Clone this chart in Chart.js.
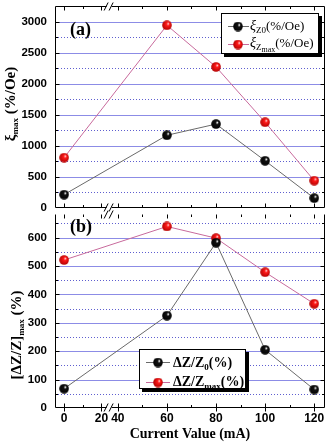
<!DOCTYPE html>
<html><head><meta charset="utf-8">
<script src="https://cdn.jsdelivr.net/npm/chart.js@4.4.1/dist/chart.umd.min.js"></script>
<style>
html,body{margin:0;padding:0;background:#fff;width:331px;height:443px;overflow:hidden}
#c1{position:absolute;left:0;top:0}
#c2{position:absolute;left:0;top:208px}
</style></head><body>
<canvas id="c1" width="331" height="216"></canvas>
<canvas id="c2" width="331" height="235"></canvas>
<script>
// ---------- data ----------
const currents = [0, 60, 80, 100, 120];               // mA
const xiZ0     = [215, 1170, 1350, 760, 158];          // %/Oe
const xiZmax   = [810, 2940, 2270, 1380, 440];         // %/Oe
const dzZ0     = [68, 325, 582, 205, 65];              // %
const dzZmax   = [521, 639, 598, 478, 367];            // %
const xMajorTicks = [0, 20, 40, 60, 80, 100, 120];
const xMinorTicks = [10, 50, 70, 90, 110];
const xBreak = [20, 40];
const topYTicks = [0, 500, 1000, 1500, 2000, 2500, 3000];
const botYTicks = [0, 100, 200, 300, 400, 500, 600];
const topYMax = 3250, topYMajor = 500, topYMinor = 250;
const botYMax = 683, botYMajor = 100, botYMinor = 50;
const xTitle = 'Current Value (mA)';
const panelLabels = ['(a)', '(b)'];

// ---------- broken x scale (0-20 compressed, 20-40 removed) ----------
const SEG_A0 = 18.1, SEG_A1 = 33.3;
function brk(v) {
  if (v <= xBreak[0]) return SEG_A0 + (SEG_A1 - SEG_A0) * v / xBreak[0];
  if (v >= xBreak[1]) return v;
  return SEG_A1 + (xBreak[1] - SEG_A1) * (v - xBreak[0]) / (xBreak[1] - xBreak[0]);
}
function unbrk(d) {
  if (d <= SEG_A1) return (d - SEG_A0) * xBreak[0] / (SEG_A1 - SEG_A0);
  if (d >= xBreak[1]) return d;
  return xBreak[0] + (d - SEG_A1) * (xBreak[1] - xBreak[0]) / (xBreak[1] - SEG_A1);
}
class BrokenScale extends Chart.LinearScale {
  getPixelForValue(value) {
    if (value === null || value === undefined || isNaN(value)) return NaN;
    return super.getPixelForValue(brk(value));
  }
  getValueForPixel(pixel) { return unbrk(super.getValueForPixel(pixel)); }
}
BrokenScale.id = 'brokenLinear';
BrokenScale.defaults = Chart.LinearScale.defaults;
Chart.register(BrokenScale);

// ---------- helpers ----------
function sphere(base, hi, dark, d) {
  const c = document.createElement('canvas'); c.width = c.height = d;
  const g = c.getContext('2d'); const r = d / 2;
  const grad = g.createRadialGradient(r * 1.3, r * 0.65, 0.2, r, r, r);
  grad.addColorStop(0, hi); grad.addColorStop(0.3, base); grad.addColorStop(1, dark);
  g.fillStyle = grad; g.beginPath(); g.arc(r, r, r - 0.2, 0, Math.PI * 2); g.fill();
  return c;
}
const blackBall = sphere('#111', '#ffffff', '#000', 10);
const redBall = sphere('#ff1a1a', '#ffd0d0', '#b00000', 10);
const blackLine = '#6a6a6a', redLine = '#c86a9c';

const SERIF = '"Liberation Serif", "Times New Roman", serif';
const SANS = '"Liberation Sans", Arial, sans-serif';
function rich(ctx, segs, x, y, align) {
  let total = 0;
  segs.forEach(s => { ctx.font = s.f; s.w = ctx.measureText(s.t).width; total += s.w; });
  let cx = align === 'center' ? x - total / 2 : x;
  ctx.textBaseline = 'alphabetic'; ctx.textAlign = 'left';
  segs.forEach(s => { ctx.font = s.f; ctx.fillStyle = '#000'; ctx.fillText(s.t, cx, y + (s.dy || 0)); cx += s.w; });
}
function drawLegend(ctx, box, rows) {
  ctx.save();
  ctx.fillStyle = '#000'; ctx.fillRect(box.x + 3, box.y + 3, box.w, box.h);
  ctx.fillStyle = '#fff'; ctx.fillRect(box.x, box.y, box.w, box.h);
  ctx.strokeStyle = '#000'; ctx.lineWidth = 1; ctx.strokeRect(box.x + 0.5, box.y + 0.5, box.w - 1, box.h - 1);
  rows.forEach(r => {
    ctx.strokeStyle = r.line; ctx.lineWidth = 1;
    ctx.beginPath(); ctx.moveTo(r.x1, r.y + 0.5); ctx.lineTo(r.x2, r.y + 0.5); ctx.stroke();
    ctx.drawImage(r.img, r.mx - r.img.width / 2, r.y - r.img.height / 2 + 0.5);
    rich(ctx, r.segs, r.tx, r.y + r.base);
  });
  ctx.restore();
}

function decor(p) {
  return {
    id: 'decor' + p.name,
    beforeDatasetsDraw(chart) {
      const {ctx, chartArea: a, scales: {y}} = chart;
      ctx.save();
      for (let k = 1; k * p.minor < y.max - 1; k++) {
        const v = k * p.minor;
        const major = v % p.major === 0;
        const py = Math.round(y.getPixelForValue(v)) + 0.5;
        ctx.beginPath();
        ctx.setLineDash(major ? [] : [1, 2]);
        ctx.strokeStyle = major ? '#8c8ce6' : '#5f5fd0';
        ctx.lineWidth = major ? 1.2 : 1;
        ctx.moveTo(a.left, py); ctx.lineTo(a.right, py); ctx.stroke();
      }
      ctx.restore();
    },
    afterDraw(chart) {
      const {ctx, chartArea: a, scales: {x, y}} = chart;
      ctx.save();
      ctx.setLineDash([]);
      ctx.strokeStyle = '#000'; ctx.lineWidth = 1;
      const L = Math.round(a.left) + 0.5, R = Math.round(a.right) - 0.5;
      const T = Math.round(a.top) + 0.5, B = Math.round(a.bottom) - 0.5;
      ctx.beginPath();
      ctx.moveTo(L, B); ctx.lineTo(R, B); ctx.moveTo(L, T); ctx.lineTo(L, B); ctx.moveTo(R, T); ctx.lineTo(R, B);
      if (p.topEdge) { ctx.moveTo(L, T); ctx.lineTo(R, T); }
      ctx.stroke();
      // y ticks (inside, left and right)
      ctx.beginPath();
      for (let k = 1; k * p.minor < y.max - 1; k++) {
        const v = k * p.minor, len = v % p.major === 0 ? 4 : 2.5;
        const py = Math.round(y.getPixelForValue(v)) + 0.5;
        ctx.moveTo(L, py); ctx.lineTo(L + len, py);
        ctx.moveTo(R, py); ctx.lineTo(R - len, py);
      }
      // x ticks
      xMajorTicks.forEach(v => {
        const px = Math.round(x.getPixelForValue(v)) + 0.5;
        ctx.moveTo(px, B - 4); ctx.lineTo(px, B + (p.crossBottom ? 4 : 0));
        ctx.moveTo(px, T); ctx.lineTo(px, T + 4);
      });
      xMinorTicks.forEach(v => {
        const px = Math.round(x.getPixelForValue(v)) + 0.5;
        ctx.moveTo(px, B - 2.5); ctx.lineTo(px, B);
        ctx.moveTo(px, T); ctx.lineTo(px, T + 2.5);
      });
      ctx.stroke();
      // axis break marks
      const bx = (x.getPixelForValue(xBreak[0]) + x.getPixelForValue(xBreak[1])) / 2;
      [B, T].forEach(yy => {
        ctx.fillStyle = '#fff'; ctx.fillRect(bx - 3, yy - 1, 5, 2);
        ctx.beginPath();
        ctx.moveTo(bx - 5.5, yy + 4); ctx.lineTo(bx - 1.5, yy - 4);
        ctx.moveTo(bx - 0.5, yy + 4); ctx.lineTo(bx + 3.5, yy - 4);
        ctx.stroke();
      });
      // panel label
      ctx.fillStyle = '#000'; ctx.font = 'bold 18px ' + SERIF; ctx.textAlign = 'left'; ctx.textBaseline = 'alphabetic';
      ctx.fillText(p.label, 70, p.labelY);
      // y title (rotated)
      ctx.save();
      ctx.translate(p.titleX, p.titleY); ctx.rotate(-Math.PI / 2);
      rich(ctx, p.titleSegs, 0, 5, 'center');
      ctx.restore();
      // legend
      drawLegend(ctx, p.legendBox, p.legendRows);
      ctx.restore();
    }
  };
}

function ds(label, xs, ys, img, color) {
  return {
    label, data: xs.map((c, i) => ({x: c, y: ys[i]})),
    borderColor: color, borderWidth: 1, backgroundColor: color,
    pointStyle: img, pointRadius: 5, tension: 0, fill: false
  };
}
const yTickFont = {family: SANS, weight: 'bold', size: 11.5};
const xTickFont = {family: SANS, weight: 'bold', size: 12};
const xScaleBase = {type: 'brokenLinear', min: 14.4, max: 124.4,
  afterBuildTicks: s => { s.ticks = xMajorTicks.map(v => ({value: v})); }};
function yFit(s) { s.width = 55; s.paddingTop = 0; s.paddingBottom = 0; }

// ---------- top panel ----------
const lgF = '13px ' + SERIF, lgI = 'italic 14px ' + SERIF, lgS = '9px ' + SERIF, lgSS = '8px ' + SERIF;
new Chart(document.getElementById('c1'), {
  type: 'line',
  data: {datasets: [
    ds('ξZ0(%/Oe)', currents, xiZ0, blackBall, blackLine),
    ds('ξZmax(%/Oe)', currents, xiZmax, redBall, redLine)
  ]},
  options: {
    responsive: false, animation: false, events: [],
    layout: {padding: {top: 5, right: 4, bottom: 8, left: 0}},
    plugins: {legend: {display: false}, tooltip: {enabled: false}},
    scales: {
      x: Object.assign({}, xScaleBase, {display: false}),
      y: {min: 0, max: topYMax, afterFit: yFit,
        afterBuildTicks: s => { s.ticks = topYTicks.map(v => ({value: v})); },
        ticks: {autoSkip: false, padding: 8, color: '#000', font: yTickFont, callback: v => String(v)},
        grid: {display: false, drawTicks: false}, border: {display: false}}
    }
  },
  plugins: [decor({
    name: 'a', minor: topYMinor, major: topYMajor, topEdge: true, crossBottom: false,
    label: panelLabels[0], labelY: 35,
    titleX: 10, titleY: 104,
    titleSegs: [{t: 'ξ', f: 'bold 15px ' + SERIF}, {t: 'max', f: 'bold 9px ' + SERIF, dy: 3},
                {t: ' (%/Oe)', f: 'bold 15px ' + SERIF}],
    legendBox: {x: 221, y: 13, w: 98, h: 41},
    legendRows: [
      {y: 26, x1: 228, x2: 249, mx: 238, tx: 250, base: 4, img: blackBall, line: blackLine,
       segs: [{t: 'ξ', f: lgI}, {t: 'Z0', f: lgS, dy: 3}, {t: '(%/Oe)', f: lgF}]},
      {y: 44, x1: 228, x2: 249, mx: 238, tx: 250, base: 3, img: redBall, line: redLine,
       segs: [{t: 'ξ', f: lgI}, {t: 'Z', f: lgS, dy: 3}, {t: 'max', f: lgSS, dy: 5}, {t: '(%/Oe)', f: lgF}]}
    ]
  })]
});

// ---------- bottom panel ----------
const lbF = 'bold 14px ' + SERIF, lbS = 'bold 9px ' + SERIF;
new Chart(document.getElementById('c2'), {
  type: 'line',
  data: {datasets: [
    ds('ΔZ/Z0(%)', currents, dzZ0, blackBall, blackLine),
    ds('ΔZ/Zmax(%)', currents, dzZmax, redBall, redLine)
  ]},
  options: {
    responsive: false, animation: false, events: [],
    layout: {padding: {top: 1, right: 4, bottom: 0, left: 0}},
    plugins: {legend: {display: false}, tooltip: {enabled: false}},
    scales: {
      x: Object.assign({}, xScaleBase, {
        afterFit: s => { s.height = 35; s.paddingLeft = 0; s.paddingRight = 0; },
        ticks: {autoSkip: false, maxRotation: 0, minRotation: 0, padding: 3, color: '#000', font: xTickFont,
          callback: v => String(v)},
        grid: {display: false, drawTicks: false}, border: {display: false},
        title: {display: true, text: xTitle, color: '#000', padding: 0,
          font: {family: SERIF, weight: 'bold', size: 14}}
      }),
      y: {min: 0, max: botYMax, afterFit: yFit,
        afterBuildTicks: s => { s.ticks = botYTicks.map(v => ({value: v})); },
        ticks: {autoSkip: false, padding: 8, color: '#000', font: yTickFont, callback: v => String(v)},
        grid: {display: false, drawTicks: false}, border: {display: false}}
    }
  },
  plugins: [decor({
    name: 'b', minor: botYMinor, major: botYMajor, topEdge: false, crossBottom: true,
    label: panelLabels[1], labelY: 24,
    titleX: 16, titleY: 127,
    titleSegs: [{t: '[ΔZ/Z]', f: 'bold 15px ' + SERIF}, {t: 'max', f: 'bold 9px ' + SERIF, dy: 3},
                {t: ' (%)', f: 'bold 15px ' + SERIF}],
    legendBox: {x: 139, y: 141, w: 107, h: 40},
    legendRows: [
      {y: 154, x1: 146, x2: 170, mx: 158, tx: 173, base: 5, img: blackBall, line: blackLine,
       segs: [{t: 'ΔZ/Z', f: lbF}, {t: '0', f: lbS, dy: 3}, {t: '(%)', f: lbF}]},
      {y: 174, x1: 146, x2: 170, mx: 158, tx: 173, base: 4, img: redBall, line: redLine,
       segs: [{t: 'ΔZ/Z', f: lbF}, {t: 'max', f: lbS, dy: 3}, {t: '(%)', f: lbF}]}
    ]
  })]
});
</script>
</body></html>
